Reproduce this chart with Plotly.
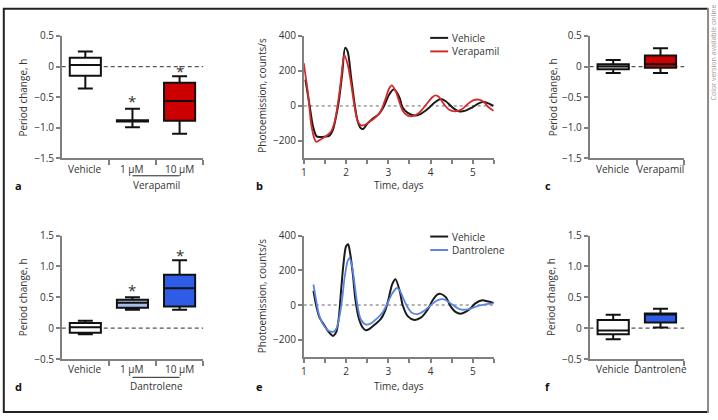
import plotly.graph_objects as go

# ---- data ----
# panel a (Verapamil, period change, h)
a_categories = ["Vehicle", "1 µM", "10 µM"]
a_upper = [0.245, -0.69, -0.16]
a_q3 = [0.144, -0.875, -0.266]
a_median = [0.027, -0.885, -0.564]
a_q1 = [-0.149, -0.895, -0.883]
a_lower = [-0.36, -0.99, -1.096]
a_star = [None, -0.57, -0.07]

# panel c
c_categories = ["Vehicle", "Verapamil"]
c_upper = [0.106, 0.30]
c_q3 = [0.037, 0.18]
c_median = [0.0, 0.037]
c_q1 = [-0.043, -0.02]
c_lower = [-0.106, -0.106]

# panel d (Dantrolene)
d_categories = ["Vehicle", "1 µM", "10 µM"]
d_upper = [0.12, 0.50, 1.10]
d_q3 = [0.084, 0.46, 0.865]
d_median = [0.016, 0.41, 0.645]
d_q1 = [-0.073, 0.33, 0.35]
d_lower = [-0.10, 0.30, 0.30]
d_star = [None, 0.62, 1.19]

# panel f
f_categories = ["Vehicle", "Dantrolene"]
f_upper = [0.215, 0.315]
f_q3 = [0.13, 0.236]
f_median = [-0.037, 0.22]
f_q1 = [-0.10, 0.09]
f_lower = [-0.18, 0.01]

# panel b (photoemission traces)
b_vehicle_t = [1.04, 1.09, 1.14, 1.22, 1.30, 1.375, 1.49, 1.61, 1.69, 1.77,
               1.83, 1.91, 1.98, 2.04, 2.12, 2.20, 2.27, 2.35, 2.41, 2.51,
               2.63, 2.78, 2.90, 3.02, 3.13, 3.20, 3.27, 3.34, 3.46, 3.62,
               3.77, 3.93, 4.09, 4.24, 4.36, 4.52, 4.67, 4.83, 4.98, 5.14,
               5.26, 5.38, 5.49]
b_vehicle_y = [150, 75, 0, -118, -173, -178, -176, -170, -137, -55,
               27, 183, 332, 310, 165, 18, -82, -128, -131, -100,
               -73, -45, 0, 64, 95, 78, 45, -9, -40, -55,
               -45, -18, 18, 40, 27, -9, -31, -27, -9, 15,
               24, 13, 0]
b_verap_t = [1.00, 1.10, 1.18, 1.26, 1.30, 1.41, 1.53, 1.65, 1.73, 1.80,
             1.88, 1.96, 2.04, 2.12, 2.20, 2.27, 2.35, 2.43, 2.55, 2.66,
             2.78, 2.86, 2.94, 3.02, 3.08, 3.17, 3.26, 3.34, 3.46, 3.58,
             3.70, 3.81, 3.93, 4.05, 4.12, 4.20, 4.32, 4.44, 4.59, 4.75,
             4.87, 5.02, 5.14, 5.26, 5.38, 5.49]
b_verap_y = [245, 73, -110, -192, -205, -190, -172, -145, -91, 0,
             145, 290, 237, 128, 0, -82, -110, -110, -91, -73,
             -45, -9, 45, 100, 118, 88, 25, -27, -55, -58,
             -45, -18, 18, 51, 60, 51, 9, -22, -31, -18,
             9, 33, 36, 22, -9, -27]

# panel e
e_vehicle_t = [1.23, 1.30, 1.375, 1.49, 1.59, 1.69, 1.77, 1.83, 1.88, 1.94,
               2.00, 2.05, 2.09, 2.16, 2.22, 2.30, 2.39, 2.47, 2.56, 2.70,
               2.82, 2.92, 3.00, 3.09, 3.17, 3.27, 3.34, 3.46, 3.62, 3.77,
               3.93, 4.05, 4.16, 4.24, 4.36, 4.48, 4.59, 4.71, 4.83, 4.95,
               5.06, 5.22, 5.34, 5.49]
e_vehicle_y = [82, -9, -73, -118, -155, -178, -155, -73, 73, 237,
               337, 350, 310, 182, 36, -73, -128, -146, -137, -109,
               -82, -36, 27, 118, 149, 82, 0, -64, -86, -73,
               -27, 27, 60, 64, 45, -9, -40, -51, -40, -18,
               9, 27, 22, 12]
e_dantro_t = [1.23, 1.30, 1.36, 1.45, 1.57, 1.69, 1.77, 1.84, 1.91, 1.96,
              2.04, 2.08, 2.14, 2.20, 2.27, 2.35, 2.47, 2.59, 2.74, 2.86,
              2.98, 3.09, 3.20, 3.27, 3.36, 3.45, 3.56, 3.70, 3.85, 4.01,
              4.16, 4.32, 4.48, 4.67, 4.83, 4.98, 5.14, 5.30, 5.49]
e_dantro_y = [118, 18, -55, -109, -146, -155, -137, -73, 36, 146,
              255, 270, 228, 127, 0, -82, -113, -106, -76, -45,
              9, 64, 98, 85, 35, -10, -45, -52, -33, 0,
              27, 33, 9, -22, -27, -18, -4, 4, 9]

# ---- styles ----
W, H = 718, 420
FONT = "Open Sans"
FS = 10
TXT = "#333333"
AXC = "#808080"
RED = "#CC0000"
BLUE = "#2F5CE6"
LIGHTBLUE = "#A9BCEB"
LINE_RED = "#D42A2A"
LINE_BLUE = "#5B86E0"


def px(x):
    return x / W


def py(y):
    return 1 - y / H


fig = go.Figure()
annotations = []
shapes = []


def box_panel(n, cats, upper, q3, med, q1, lower, fills, xdom, ydom, yrange,
              ytickvals, yticktext, label_y, stars=None):
    xa = "x" if n == 1 else f"x{n}"
    ya = "y" if n == 1 else f"y{n}"
    for i in range(len(cats)):
        fig.add_trace(go.Box(
            x=[i], q1=[q1[i]], median=[med[i]], q3=[q3[i]],
            lowerfence=[lower[i]], upperfence=[upper[i]],
            width=0.66, whiskerwidth=0.48, fillcolor=fills[i],
            line=dict(color="#111111", width=2), boxpoints=False,
            xaxis=xa, yaxis=ya, showlegend=False, hoverinfo="skip"))
        annotations.append(dict(
            x=i, y=py(label_y), xref=xa, yref="paper", text=cats[i],
            showarrow=False, xanchor="center", yanchor="middle",
            font=dict(family=FONT, size=FS, color=TXT)))
    k = len(cats)
    fig.layout[f"xaxis{'' if n == 1 else n}"] = dict(
        domain=xdom, anchor=ya, range=[-0.5, k - 0.5 + 1e-6],
        tickvals=list(range(k)), showticklabels=False, ticks="",
        showline=True, linecolor=AXC, linewidth=1.5, showgrid=False,
        zeroline=False,
        minor=dict(tickvals=[i + 0.5 for i in range(k)], ticks="outside",
                   ticklen=5, tickwidth=1.5, tickcolor=AXC),
    )
    fig.layout[f"yaxis{'' if n == 1 else n}"] = dict(
        domain=ydom, anchor=xa, range=yrange, tickvals=ytickvals,
        ticktext=yticktext, ticks="outside", ticklen=4, tickwidth=1.5,
        tickcolor=AXC, showline=True, linecolor=AXC, linewidth=1.5,
        showgrid=False, zeroline=False,
        tickfont=dict(family=FONT, size=FS, color=TXT),
    )
    shapes.append(dict(type="line", xref=f"{xa} domain", yref=ya, x0=0, x1=1,
                       y0=0, y1=0, layer="below",
                       line=dict(color="#555555", width=1.2, dash="4px,3px")))
    if stars:
        for i, s in enumerate(stars):
            if s is not None:
                annotations.append(dict(
                    x=i, y=s, xref=xa, yref=ya, text="*", showarrow=False,
                    font=dict(family=FONT, size=15, color=TXT)))


def line_panel(n, series, xdom, ydom):
    xa = f"x{n}"
    ya = f"y{n}"
    for t, v, color, width, name in series:
        fig.add_trace(go.Scatter(
            x=t, y=v, mode="lines", name=name,
            line=dict(color=color, width=width, shape="spline",
                      smoothing=0.8),
            xaxis=xa, yaxis=ya, showlegend=False, hoverinfo="skip"))
    fig.layout[f"xaxis{n}"] = dict(
        domain=xdom, anchor=ya, range=[1, 5.5], tickvals=[1, 2, 3, 4, 5],
        ticks="outside", ticklen=4, tickwidth=1.5, tickcolor=AXC,
        showline=True, linecolor=AXC, linewidth=1.5, showgrid=False,
        zeroline=False, tickfont=dict(family=FONT, size=FS, color=TXT),
        minor=dict(tickvals=[1.5, 2.5, 3.5, 4.5, 5.5], ticks="outside",
                   ticklen=4, tickwidth=1.5, tickcolor=AXC),
    )
    fig.layout[f"yaxis{n}"] = dict(
        domain=ydom, anchor=xa, range=[-300, 400],
        tickvals=[-200, 0, 200, 400], ticktext=["−200", "0", "200", "400"],
        ticks="outside", ticklen=4, tickwidth=1.5, tickcolor=AXC,
        showline=True, linecolor=AXC, linewidth=1.5, showgrid=False,
        zeroline=False, tickfont=dict(family=FONT, size=FS, color=TXT),
    )
    shapes.append(dict(type="line", xref=f"{xa} domain", yref=ya, x0=0, x1=1,
                       y0=0, y1=0, layer="below",
                       line=dict(color="#666666", width=1, dash="dot")))


# domains
dom_x_left = [px(59), px(201)]
dom_x_mid = [px(302), px(493)]
dom_x_right = [px(589), px(684)]
dom_y_top = [py(156), py(29)]
dom_y_bot = [py(364), py(236)]
dom_y_bot_line = [py(362), py(236)]

top_ticks = [0.5, 0, -0.5, -1.0, -1.5]
top_text = ["0.5", "0", "−0.5", "−1.0", "−1.5"]
bot_ticks = [1.5, 1.0, 0.5, 0, -0.5]
bot_text = ["1.5", "1.0", "0.5", "0", "−0.5"]

box_panel(1, a_categories, a_upper, a_q3, a_median, a_q1, a_lower,
          ["white", RED, RED], dom_x_left, dom_y_top, [-1.5, 0.5],
          top_ticks, top_text, 167, a_star)
line_panel(2, [(b_vehicle_t, b_vehicle_y, "#1a1a1a", 2, "Vehicle"),
               (b_verap_t, b_verap_y, LINE_RED, 1.8, "Verapamil")],
           dom_x_mid, dom_y_top)
box_panel(3, c_categories, c_upper, c_q3, c_median, c_q1, c_lower,
          ["white", RED], dom_x_right, dom_y_top, [-1.5, 0.5],
          top_ticks, top_text, 167)
box_panel(4, d_categories, d_upper, d_q3, d_median, d_q1, d_lower,
          ["white", LIGHTBLUE, BLUE], dom_x_left, dom_y_bot, [-0.5, 1.5],
          bot_ticks, bot_text, 374, d_star)
line_panel(5, [(e_vehicle_t, e_vehicle_y, "#1a1a1a", 2, "Vehicle"),
               (e_dantro_t, e_dantro_y, LINE_BLUE, 1.8, "Dantrolene")],
           dom_x_mid, dom_y_bot_line)
box_panel(6, f_categories, f_upper, f_q3, f_median, f_q1, f_lower,
          ["white", BLUE], dom_x_right, dom_y_bot, [-0.5, 1.5],
          bot_ticks, bot_text, 374)


def text(x, y, s, size=FS, angle=0, bold=False, color=TXT, xref="paper"):
    annotations.append(dict(
        x=x if xref != "paper" else px(x), y=py(y), xref=xref, yref="paper",
        text=f"<b>{s}</b>" if bold else s, showarrow=False, textangle=angle,
        xanchor="center", yanchor="middle",
        font=dict(family=FONT, size=size, color=color)))


# axis titles
text(20, 93, "Period change, h", angle=-90)
text(20, 300, "Period change, h", angle=-90)
text(552, 93, "Period change, h", angle=-90)
text(551, 300, "Period change, h", angle=-90)
text(260, 90, "Photoemission, counts/s", angle=-90)
text(260, 298, "Photoemission, counts/s", angle=-90)
text(398, 184, "Time, days")
text(398, 392, "Time, days")

# group labels with underline
text(1.5, 184, "Verapamil", xref="x")
text(1.5, 392, "Dantrolene", xref="x4")
shapes.append(dict(type="line", xref="x", yref="paper", x0=1, x1=2,
                   y0=py(174), y1=py(174), line=dict(color="#222", width=1)))
shapes.append(dict(type="line", xref="x4", yref="paper", x0=1, x1=2,
                   y0=py(383), y1=py(383), line=dict(color="#222", width=1)))

# panel letters
for letter, x, y in [("a", 16, 184), ("b", 258, 184), ("c", 547, 184),
                     ("d", 16, 392), ("e", 258, 392), ("f", 547, 392)]:
    text(x, y, letter, size=11, bold=True, color="#111")

# legends
for name, color, y in [("Vehicle", "#1a1a1a", 31), ("Verapamil", LINE_RED, 45),
                       ("Vehicle", "#1a1a1a", 237), ("Dantrolene", LINE_BLUE, 251)]:
    shapes.append(dict(type="line", xref="paper", yref="paper",
                       x0=px(429), x1=px(447), y0=py(y), y1=py(y),
                       line=dict(color=color, width=2)))
    annotations.append(dict(x=px(449), y=py(y), xref="paper", yref="paper",
                            text=name, showarrow=False, xanchor="left",
                            yanchor="middle",
                            font=dict(family=FONT, size=FS, color=TXT)))

text(713, 46, "Color version available online", size=7, angle=-90,
     color="#9a9a9a")

# frame
shapes += [
    dict(type="line", xref="paper", yref="paper", x0=0, x1=px(708),
         y0=py(0.8), y1=py(0.8), line=dict(color="#222", width=2)),
    dict(type="line", xref="paper", yref="paper", x0=px(0.8), x1=px(0.8),
         y0=0, y1=1, line=dict(color="#222", width=2)),
    dict(type="line", xref="paper", yref="paper", x0=0, x1=px(708),
         y0=py(419), y1=py(419), line=dict(color="#222", width=2)),
    dict(type="line", xref="paper", yref="paper", x0=px(708), x1=px(708),
         y0=0, y1=1, line=dict(color="#8a8a8a", width=2)),
]

fig.update_layout(
    width=W, height=H, margin=dict(l=0, r=0, t=0, b=0),
    paper_bgcolor="white", plot_bgcolor="rgba(0,0,0,0)",
    annotations=annotations, shapes=shapes, boxmode="overlay",
    font=dict(family=FONT, size=FS, color=TXT),
)

fig.write_html("out.html", config={"displayModeBar": False},
               post_script="document.body.style.margin='0';")
